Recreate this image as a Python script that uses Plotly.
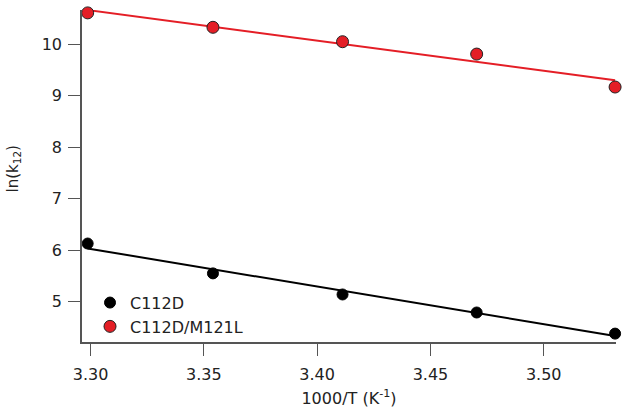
import numpy as np
import plotly.graph_objects as go

inv_T = [3.2987, 3.3540, 3.4112, 3.4704, 3.5315]
ln_k_c112d = [6.13, 5.55, 5.14, 4.79, 4.38]
ln_k_m121l = [10.61, 10.33, 10.05, 9.81, 9.17]
x_ticks = [3.30, 3.35, 3.40, 3.45, 3.50]
y_ticks = [5, 6, 7, 8, 9, 10]

FONT = "DejaVu Sans"
RED = "#e41e26"

fig = go.Figure()

xs = np.array([inv_T[0], inv_T[-1]])
for ys, color in [(ln_k_c112d, "black"), (ln_k_m121l, RED)]:
    m, b = np.polyfit(inv_T, ys, 1)
    fig.add_trace(go.Scatter(x=xs, y=m * xs + b, mode="lines",
                             line=dict(color=color, width=2),
                             showlegend=False, hoverinfo="skip"))

fig.add_trace(go.Scatter(x=inv_T, y=ln_k_c112d, mode="markers", name="C112D",
                         marker=dict(color="black", size=11,
                                     line=dict(color="black", width=1)),
                         cliponaxis=False))
fig.add_trace(go.Scatter(x=inv_T, y=ln_k_m121l, mode="markers", name="C112D/M121L",
                         marker=dict(color=RED, size=12,
                                     line=dict(color="#222", width=1)),
                         cliponaxis=False))

axis_common = dict(showgrid=False, zeroline=False, showline=True,
                   linecolor="#555", linewidth=1.5, ticks="outside",
                   ticklen=12, tickwidth=1, tickcolor="#555",
                   tickfont=dict(family=FONT, size=16, color="#222"))

fig.update_xaxes(range=[3.2962, 3.5319], tickvals=x_ticks,
                 ticktext=[f"{v:.2f}" for v in x_ticks],
                 ticklabelstandoff=5,
                 title=dict(text="1000/T (K<sup>-1</sup>)",
                            font=dict(family=FONT, size=16, color="#222"),
                            standoff=10),
                 **axis_common)
fig.update_yaxes(range=[4.217, 10.666], tickvals=y_ticks,
                 ticklabelstandoff=3,
                 **axis_common)

fig.add_annotation(text="ln(k<sub>12</sub>)", textangle=-90,
                   xref="paper", yref="paper", x=-0.129, y=0.52,
                   xanchor="center", yanchor="middle", showarrow=False,
                   font=dict(family=FONT, size=15, color="#222"))

fig.update_layout(
    width=629, height=419,
    margin=dict(l=82, r=13, t=10, b=77),
    plot_bgcolor="white", paper_bgcolor="white",
    font=dict(family=FONT, size=16, color="#222"),
    legend=dict(x=0.015, y=-0.005, xanchor="left", yanchor="bottom",
                bgcolor="rgba(0,0,0,0)", font=dict(family=FONT, size=16, color="#222")),
)

fig.write_html("out.html", config={"displayModeBar": False},
               post_script="document.body.style.margin='0';")
